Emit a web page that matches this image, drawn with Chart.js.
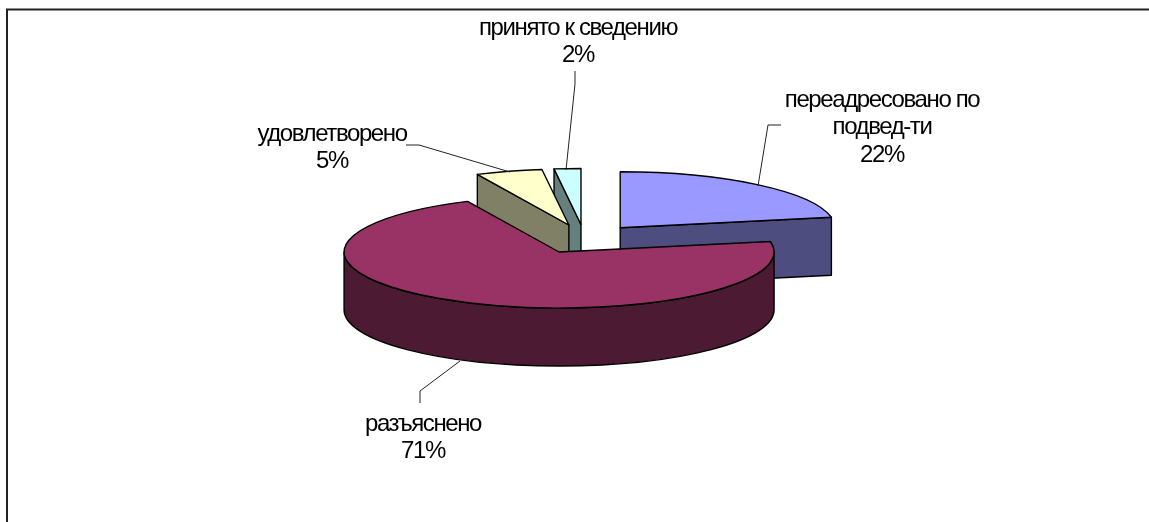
<!DOCTYPE html>
<html>
<head>
<meta charset="utf-8">
<script src="https://cdn.jsdelivr.net/npm/chart.js@4"></script>
<style>
html, body { margin: 0; padding: 0; background: #fff; overflow: hidden; }
canvas { display: block; }
</style>
</head>
<body>
<canvas id="pieChart" width="1149" height="522"></canvas>
<script>
const categories = [['переадресовано по', 'подвед-ти'], ['разъяснено'], ['удовлетворено'], ['принято к сведению']];
const shares = [22, 71, 5, 2];
const topColors = ['#9999FF', '#993366', '#FFFFCC', '#CCFFFF'];
const sideColors = ['#4D4D80', '#4D1A33', '#808066', '#668080'];

// where the text blocks and their leader lines sit, same order as categories
const labelCenters = [[882, 100], [423, 424], [332, 134], [578, 28]];
const leaders = [
    [[781, 125], [768, 125], [758, 186]],
    [[420, 403], [420, 391], [460, 361]],
    [[406, 145], [419, 145], [510, 172]],
    [[575, 71], [575, 84], [566, 170]]
];

const tilt = 56 / 215;      // squash of the circle into an ellipse
const depth = 58;
const explode = 56;
const drawOrder = [0, 3, 2, 1];

function slicePath(ctx, arc, ox, oy) {
    ctx.beginPath();
    ctx.moveTo(ox, oy);
    ctx.ellipse(ox, oy, arc.outerRadius, arc.outerRadius * tilt, 0, arc.startAngle, arc.endAngle);
    ctx.closePath();
}

function sideFace(ctx, ox, oy, r, angle) {
    const ex = ox + Math.cos(angle) * r;
    const ey = oy + Math.sin(angle) * r * tilt;
    ctx.beginPath();
    ctx.moveTo(ox, oy);
    ctx.lineTo(ex, ey);
    ctx.lineTo(ex, ey + depth);
    ctx.lineTo(ox, oy + depth);
    ctx.closePath();
    ctx.fill();
    ctx.stroke();
}

function rimFace(ctx, ox, oy, r, from, to) {
    ctx.beginPath();
    ctx.ellipse(ox, oy, r, r * tilt, 0, from, to);
    ctx.ellipse(ox, oy + depth, r, r * tilt, 0, to, from, true);
    ctx.closePath();
    ctx.fill();
    ctx.stroke();
}

const pie3d = {
    id: 'pie3d',
    beforeDraw(chart) {
        const ctx = chart.ctx;
        ctx.save();
        ctx.strokeStyle = '#222';
        ctx.lineWidth = 2;
        ctx.beginPath();
        ctx.moveTo(7, 522);
        ctx.lineTo(7, 9.5);
        ctx.lineTo(1149, 9.5);
        ctx.stroke();
        ctx.restore();
    },
    beforeDatasetsDraw(chart) {
        const ctx = chart.ctx;
        const arcs = chart.getDatasetMeta(0).data;
        ctx.save();
        ctx.lineWidth = 1.4;
        ctx.lineJoin = 'round';
        ctx.strokeStyle = '#000';
        drawOrder.forEach(i => {
            const arc = arcs[i];
            const mid = (arc.startAngle + arc.endAngle) / 2;
            const ox = arc.x + Math.cos(mid) * explode;
            const oy = arc.y + Math.sin(mid) * explode * tilt;
            const r = arc.outerRadius;
            ctx.fillStyle = sideColors[i];
            if (Math.cos(arc.startAngle) < -0.001) sideFace(ctx, ox, oy, r, arc.startAngle);
            if (Math.cos(arc.endAngle) > 0.001) sideFace(ctx, ox, oy, r, arc.endAngle);
            const from = Math.max(arc.startAngle, 0);
            const to = Math.min(arc.endAngle, Math.PI);
            if (to > from) rimFace(ctx, ox, oy, r, from, to);
            ctx.fillStyle = topColors[i];
            slicePath(ctx, arc, ox, oy);
            ctx.fill();
            ctx.stroke();
        });
        ctx.restore();
        return false;
    },
    afterDraw(chart) {
        const ctx = chart.ctx;
        const total = shares.reduce((a, b) => a + b, 0);
        ctx.save();
        ctx.strokeStyle = '#222';
        ctx.lineWidth = 1;
        leaders.forEach(pts => {
            ctx.beginPath();
            pts.forEach((p, n) => n ? ctx.lineTo(p[0], p[1]) : ctx.moveTo(p[0], p[1]));
            ctx.stroke();
        });
        ctx.fillStyle = '#000';
        ctx.font = '24px "Liberation Sans"';
        ctx.letterSpacing = '-1.4px';
        ctx.textAlign = 'center';
        ctx.textBaseline = 'middle';
        categories.forEach((lines, i) => {
            const rows = lines.concat(Math.round(shares[i] / total * 100) + '%');
            rows.forEach((row, n) => {
                ctx.fillText(row, labelCenters[i][0], labelCenters[i][1] + n * 27.5);
            });
        });
        ctx.restore();
    }
};

const pieChart = new Chart(document.getElementById('pieChart'), {
    type: 'pie',
    data: {
        labels: categories,
        datasets: [{
            data: shares,
            backgroundColor: topColors,
            borderWidth: 0
        }]
    },
    options: {
        responsive: false,
        animation: false,
        radius: 215,
        layout: { padding: { left: 20, bottom: 44 } },
        plugins: { legend: { display: false }, tooltip: { enabled: false } }
    },
    plugins: [pie3d]
});
</script>
</body>
</html>
